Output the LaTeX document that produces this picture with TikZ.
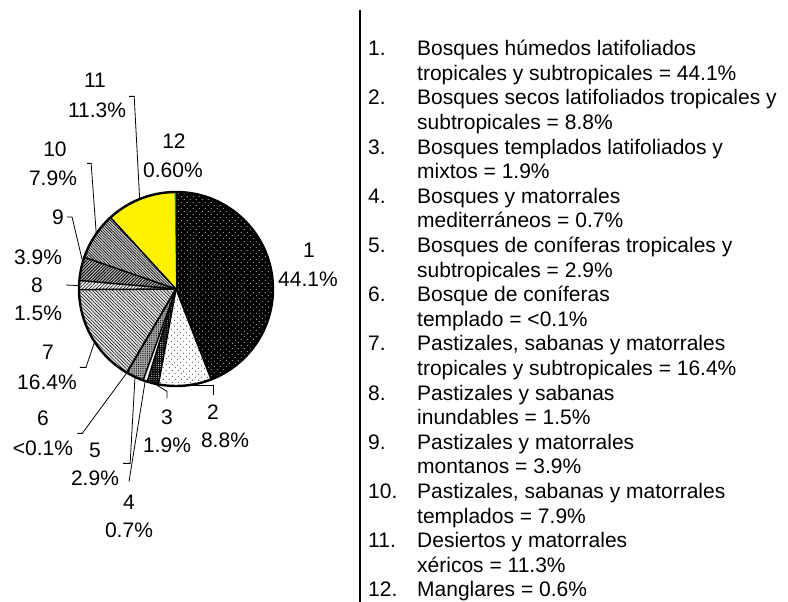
\documentclass[tikz,border=0pt]{standalone}
\usepackage{fontspec}
\setmainfont{Liberation Sans}
\usetikzlibrary{calc,patterns.meta}

\begin{document}
\begin{tikzpicture}[x=1pt, y=-1pt,
    lbl/.style={inner sep=0pt, font=\fontsize{21}{25}\selectfont},
    leg/.style={inner sep=0pt, anchor=base west, align=left, font=\fontsize{21}{24.6}\selectfont},
    ldr/.style={line width=0.8pt},
    sA/.style={fill=black, postaction={pattern={Dots[distance=4pt, angle=45, radius=0.55pt]}, pattern color=white}},
    sB/.style={fill=white, postaction={pattern={Dots[distance=4pt, angle=45, radius=0.5pt]}, pattern color=black}},
    sC/.style={fill=black, postaction={pattern={Dots[distance=2.2pt, radius=0.5pt]}, pattern color=white}},
    sD/.style={fill=white},
    sE/.style={fill=gray!70, postaction={pattern={Dots[distance=2.2pt, radius=0.6pt]}, pattern color=black}},
    sF/.style={fill=white},
    sG/.style={fill=gray!20, postaction={pattern={Lines[angle=-45, distance=2.4pt, line width=0.5pt]}, pattern color=black}},
    sH/.style={fill=gray!10, postaction={pattern={Lines[angle=45, distance=2.4pt, line width=0.5pt]}, pattern color=black}},
    sI/.style={fill=gray!50, postaction={pattern={Lines[angle=45, distance=2.2pt, line width=0.9pt]}, pattern color=black}},
    sJ/.style={fill=gray!35, postaction={pattern={Lines[angle=-45, distance=2pt, line width=0.6pt]}, pattern color=black}},
    sK/.style={fill=yellow},
    sL/.style={fill=teal}]
    \useasboundingbox (0,0) rectangle (788,602);
    \coordinate (c) at (176,289);
    \foreach \a/\b/\s in {-90/68.76/sA, 68.76/100.44/sB, 100.44/107.28/sC, 107.28/109.8/sD, 109.8/120.24/sE, 120.24/120.6/sF, 120.6/179.64/sG, 179.64/185.04/sH, 185.04/199.08/sI, 199.08/227.52/sJ, 227.52/269.2/sK, 269.2/270/sL}
        \path[\s] (c) -- ($(c)+(\a:97)$) arc[start angle=\a, end angle=\b, radius=97] -- cycle;
    \foreach \a in {68.76, 100.44, 107.28, 109.8, 120.24, 120.6, 179.64, 185.04, 199.08, 227.52}
        \draw[line width=1.5pt] (c) -- ($(c)+(\a:97)$);
    \draw[line width=2.4pt] (c) circle[radius=97];

    \foreach \k/\p in {2/84.8, 3/103, 4/108.5, 5/115, 6/120.4, 7/147, 8/182, 9/196, 10/214.7, 11/248}
        \coordinate (p\k) at ($(c)+(\p:97)$);
    \foreach \k/\nx/\ny/\vx/\vy/\val in {1/309/250/308/279/44.1, 2/213/412/225/440/8.8, 3/167/417/167/445/1.9, 4/129/502/129/530/0.7, 5/95/450/95/478/2.9, 6/43/418/43/448/<0.1, 7/48/352/47/382/16.4, 8/37/285/38/313/1.5, 9/58/217/38/257/3.9, 10/55/149/53/178/7.9, 11/95/80/97/110/11.3, 12/174/141/173/170/0.60} {
        \node[lbl] (n\k) at (\nx,\ny) {\k};
        \node[lbl] (v\k) at (\vx,\vy) {\val\%};
    }
    \draw[ldr] ([shift={(3,-6)}]v11.north east) -- ++(5,0) -- (p11);
    \draw[ldr] ([shift={(10,-7)}]v10.north east) -- ++(4,0) -- (p10);
    \draw[ldr] ([shift={(3,0)}]n9.east) -- ++(5,0) -- (p9);
    \draw[ldr] ([shift={(23,0)}]n8.east) -- (p8);
    \draw[ldr] ([shift={(3,-7)}]v7.north east) -- ++(6,0) -- (p7);
    \draw[ldr] ([shift={(4,-7)}]v6.north east) -- ++(5,0) -- (p6);
    \draw[ldr] ([shift={(4,-7)}]v5.north east) -- ++(7,0) -- (p5);
    \draw[ldr] ([shift={(0,-13)}]n4.north) -- (p4);
    \draw[ldr] ([shift={(0,-11)}]n3.north) -- ++(0,-7) -- (p3);
    \draw[ldr] ([shift={(0,-9)}]n2.north) |- (p2);

    \coordinate (lt) at (360,10);
    \coordinate (lb) at (360,602);
    \draw[line width=1.2pt] (lt) -- (lb);
    \foreach \nl/\txt [count=\i] in {2/{Bosques húmedos latifoliados\\tropicales y subtropicales = 44.1\%},
        2/{Bosques secos latifoliados tropicales y\\subtropicales = 8.8\%},
        2/{Bosques templados latifoliados y\\mixtos = 1.9\%},
        2/{Bosques y matorrales\\mediterráneos = 0.7\%},
        2/{Bosques de coníferas tropicales y\\subtropicales = 2.9\%},
        2/{Bosque de coníferas\\templado = <0.1\%},
        2/{Pastizales, sabanas y matorrales\\tropicales y subtropicales = 16.4\%},
        2/{Pastizales y sabanas\\inundables = 1.5\%},
        2/{Pastizales y matorrales\\montanos = 3.9\%},
        2/{Pastizales, sabanas y matorrales\\templados = 7.9\%},
        2/{Desiertos y matorrales\\xéricos = 11.3\%},
        1/{Manglares = 0.6\%}} {
        \node[leg] (m\i) at (368,{55.6+(\i-1)*49.2}) {\i.};
        \node[leg] (t\i) at (417,{55.6+(\i-1)*49.2+(\nl-1)*24.6}) {\txt};
    }
\end{tikzpicture}
\end{document}
